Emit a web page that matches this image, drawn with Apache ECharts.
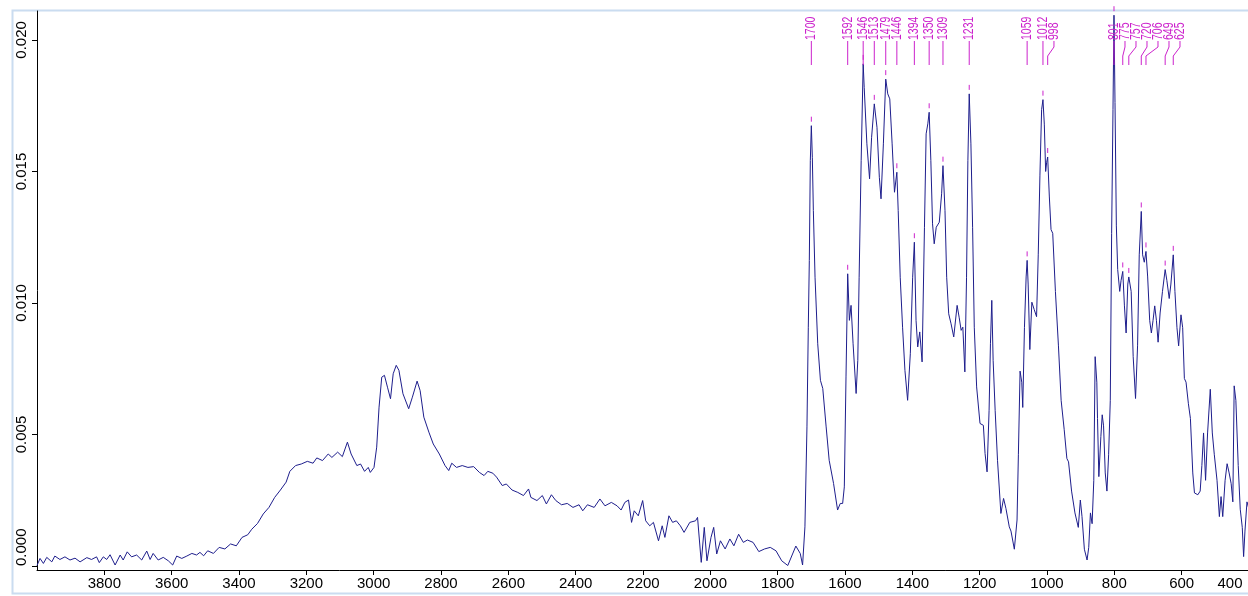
<!DOCTYPE html>
<html>
<head>
<meta charset="utf-8">
<script src="https://cdn.jsdelivr.net/npm/echarts@6/dist/echarts.min.js"></script>
<style>
html,body{margin:0;padding:0;background:#fff;}
#chart{width:1248px;height:596px;}
</style>
</head>
<body>
<div id="chart"></div>
<script>
// ---- data ----
const spectrum = [
[4000,0.00002],[3991,0.00029],[3981,0.0001],[3971,0.00033],[3956,0.00016],[3947,0.00038],[3932,0.00025],[3917,0.00035],[3902,0.00023],[3887,0.0003],[3872,0.00016],[3852,0.00032],[3838,0.00025],[3823,0.00035],[3815,0.00013],[3803,0.00035],[3793,0.00025],[3783,0.00043],[3768,0.00004],[3753,0.00042],[3744,0.00023],[3732,0.00054],[3719,0.00035],[3704,0.00042],[3689,0.00023],[3674,0.00057],[3664,0.00025],[3655,0.00048],[3640,0.00023],[3625,0.00033],[3610,0.0002],[3597,0.00004],[3585,0.00038],[3570,0.00029],[3555,0.00038],[3540,0.00048],[3526,0.00042],
[3516,0.00052],[3505,0.00039],[3493,0.00058],[3476,0.00048],[3459,0.00071],[3442,0.00065],[3425,0.00084],[3408,0.00077],[3391,0.00109],[3374,0.00119],[3362,0.0014],[3345,0.00162],[3328,0.00198],[3311,0.00223],[3294,0.00261],[3277,0.00289],[3260,0.00319],[3249,0.0036],[3232,0.00382],[3215,0.00388],[3197,0.00398],[3180,0.00391],[3169,0.00411],[3152,0.00401],[3135,0.00426],[3124,0.00413],[3107,0.00433],[3093,0.00416],[3078,0.00471],[3067,0.00426],[3050,0.00382],[3039,0.00388],[3027,0.0036],[3016,0.00375],[3010,0.00356],[2999,0.00375],[2991,0.00452],[2984,0.00604],[2976,0.00718],[2968,0.00725],[2959,0.0068],[2950,0.00636],[2942,0.00731],[2933,0.00763],[2925,0.00744],[2913,0.00655],[2896,0.00598],[2885,0.00642],[2871,0.00703],[2862,0.00667],[2851,0.00566],[2836,0.00509],[2823,0.00464],[2805,0.00426],[2788,0.00382],[2777,0.00363],[2768,0.00391],[2754,0.00375],[2737,0.00382],[2720,0.00375],[2703,0.00378],[2686,0.00356],[2672,0.00344],[2661,0.0036],[2646,0.00353],[2635,0.00338],[2618,0.00306],[2606,0.00312],[2589,0.00289],[2572,0.0028],[2555,0.00268],[2540,0.00293],[2533,0.00261],[2515,0.00249],[2499,0.00268],[2487,0.00236],[2472,0.00271],[2459,0.00249],[2442,0.00233],[2425,0.00238],[2408,0.00223],[2390,0.00233],[2379,0.0021],[2365,0.00233],[2345,0.00223],[2328,0.00255],[2313,0.00229],[2294,0.00242],[2277,0.00229],[2265,0.00213],[2254,0.00242],[2243,0.00251],[2234,0.00166],[2226,0.0021],[2214,0.00191],[2201,0.00249],[2192,0.00172],[2180,0.00153],[2169,0.00166],[2154,0.00096],[2143,0.00153],[2135,0.00109],[2123,0.00191],[2112,0.00166],[2101,0.00172],[2089,0.00153],[2078,0.00128],[2061,0.00166],[2044,0.00172],[2038,0.00185],[2027,0.00014],[2018,0.00147],[2010,0.0002],[1998,0.00109],[1990,0.00147],[1981,0.00046],[1970,0.00096],[1956,0.00065],[1942,0.00103],[1930,0.00077],[1916,0.00121],[1902,0.0009],[1890,0.00099],[1873,0.0009],[1856,0.00055],[1839,0.00065],[1822,0.00071],[1805,0.00058],[1788,0.0002],[1770,0.00002],[1746,0.00076],[1733,0.00048],[1726,0.00004],[1719,0.00149],[1713,0.00529],[1709,0.00908],[1706,0.01162],[1703,0.01541],[1700,0.01674],[1697,0.01554],[1694,0.01352],[1689,0.01098],[1681,0.00845],[1673,0.00706],[1666,0.00675],[1656,0.00529],[1647,0.00402],[1634,0.00314],[1622,0.00213],[1614,0.00238],[1607,0.00238],[1602,0.00301],[1597,0.00719],[1592,0.01111],[1587,0.00934],[1582,0.00991],[1576,0.00845],[1567,0.00656],[1562,0.00782],[1558,0.01098],[1552,0.01541],[1546,0.01909],[1543,0.0182],[1535,0.01605],[1527,0.01472],[1521,0.0163],[1513,0.01757],[1505,0.01668],[1498,0.01478],[1493,0.01396],[1486,0.01605],[1479,0.01851],[1473,0.01795],[1467,0.01776],[1460,0.01605],[1453,0.01421],[1446,0.01497],[1442,0.01352],[1436,0.01098],[1429,0.00908],[1422,0.00744],[1414,0.0063],[1406,0.00807],[1399,0.01098],[1394,0.01231],[1389,0.00934],[1384,0.00833],[1378,0.0089],[1371,0.00776],[1364,0.01288],[1359,0.01643],[1354,0.01681],[1350,0.01725],[1345,0.01541],[1340,0.01301],[1335,0.01225],[1329,0.01288],[1320,0.01307],[1313,0.01415],[1309,0.01522],[1303,0.01352],[1298,0.01098],[1292,0.00959],[1285,0.00921],[1277,0.00871],[1267,0.00991],[1261,0.00946],[1255,0.00896],[1250,0.00908],[1244,0.00738],[1239,0.01098],[1235,0.01541],[1231,0.01795],[1226,0.01605],[1221,0.01288],[1216,0.00908],[1209,0.00681],[1199,0.00542],[1189,0.00535],[1184,0.00428],[1178,0.00358],[1172,0.00592],[1168,0.00845],[1164,0.0101],[1160,0.00782],[1154,0.00592],[1147,0.00402],[1137,0.002],[1129,0.00257],[1122,0.00219],[1112,0.00149],[1107,0.00133],[1097,0.00064],[1089,0.00175],[1085,0.00423],[1080,0.00741],[1075,0.00699],[1072,0.00603],[1067,0.00906],[1062,0.01099],[1059,0.01162],[1056,0.01072],[1051,0.00823],[1045,0.01003],[1038,0.00975],[1031,0.00948],[1026,0.01183],[1021,0.01486],[1016,0.01735],[1012,0.01773],[1008,0.0168],[1004,0.015],[1001,0.01535],[998,0.01555],[993,0.01403],[988,0.01279],[983,0.01265],[975,0.01044],[966,0.00837],[958,0.0063],[949,0.0052],[941,0.00409],[936,0.00396],[927,0.00285],[917,0.00202],[907,0.00147],[901,0.00251],[896,0.00188],[889,0.00064],[881,0.00023],[876,0.00071],[871,0.00202],[866,0.00161],[861,0.00326],[857,0.00796],[852,0.00699],[850,0.00561],[846,0.0034],[840,0.00492],[836,0.00575],[832,0.00533],[827,0.00354],[822,0.00285],[817,0.00423],[812,0.0063],[808,0.01265],[804,0.01735],[801,0.02094],[798,0.01762],[794,0.01293],[790,0.01127],[784,0.01044],[780,0.01086],[775,0.0112],[770,0.00989],[765,0.00886],[760,0.01072],[757,0.01099],[750,0.01044],[744,0.00796],[737,0.00637],[731,0.00837],[726,0.01183],[720,0.01348],[716,0.01183],[711,0.01155],[706,0.01196],[701,0.01099],[695,0.00934],[690,0.00886],[685,0.00934],[680,0.00989],[675,0.00934],[670,0.00851],[664,0.00962],[657,0.01044],[649,0.01127],[644,0.01086],[637,0.01017],[632,0.01072],[625,0.01183],[620,0.01044],[614,0.00906],[609,0.00837],[602,0.00955],[597,0.00906],[592,0.00713],[587,0.00699],[580,0.00617],[574,0.00561],[567,0.00354],[562,0.00278],[557,0.00285],[552,0.00271],[545,0.00285],[540,0.00382],[535,0.00506],[529,0.00326],[523,0.00506],[515,0.00672],[509,0.00506],[503,0.00423],[495,0.00326],[488,0.00188],[483,0.00264],[478,0.00188],[471,0.00326],[465,0.00389],[459,0.00354],[453,0.00313],[448,0.00244],[444,0.00685],[439,0.0063],[432,0.00382],[426,0.00216],[420,0.00147],[416,0.00036],[412,0.00133],[406,0.00244],[400,0.00216]
];
const peakWavenumbers = [1700,1592,1546,1513,1479,1446,1394,1350,1309,1231,1059,1012,998,801,775,757,720,706,649,625];
const xTickValues = [3800,3600,3400,3200,3000,2800,2600,2400,2200,2000,1800,1600,1400,1200,1000,800,600,400];
const yTickValues = [0,0.005,0.010,0.015,0.020];

// ---- chart ----
const absAt = {};
spectrum.forEach(p => { absAt[p[0]] = p[1]; });
const MAG = '#cc22cc';
const chart = echarts.init(document.getElementById('chart'), null, {renderer:'canvas'});
const xEdgeValue = Math.min.apply(null, xTickValues);

function renderPeak(params, api) {
  const idx = params.dataIndex;
  const xs = peakWavenumbers.map(w => api.coord([w, 0])[0]);
  const order = xs.map((x, i) => i).sort((a, b) => xs[a] - xs[b]);
  const lx = new Array(xs.length);
  let prev = -Infinity;
  const gap = 11;
  for (const i of order) { lx[i] = Math.max(xs[i], prev + gap); prev = lx[i]; }
  const w = peakWavenumbers[idx];
  const pt = api.coord([w, absAt[w]]);
  const px = pt[0], py = pt[1];
  const L = lx[idx];
  const children = [
    {type:'text', x: L, y: 40, rotation: Math.PI/2, scaleX: 0.75,
     style:{text: String(w), fill: MAG, font: '14px "Liberation Sans", Arial, sans-serif', textAlign:'left', textVerticalAlign:'middle'}},
    {type:'polyline', shape:{points: [[L,41],[L,47],[px,56],[px,65]]},
     style:{stroke: MAG, lineWidth: 1, fill: null}},
    {type:'line', shape:{x1: px, y1: py-9, x2: px, y2: py-4},
     style:{stroke: MAG, lineWidth: 1}}
  ];
  return {type:'group', children};
}

chart.setOption({
  animation: false,
  backgroundColor: '#ffffff',
  grid: {left: 37, right: -1, top: 11, bottom: 26, containLabel: false, outerBoundsMode: 'none'},
  graphic: [{
    type:'rect', silent:true, z: -1,
    shape:{x: 12.5, y: 10.5, width: 1240, height: 583},
    style:{fill: null, stroke: '#cadcf0', lineWidth: 2}
  }],
  xAxis: {
    type: 'value', inverse: true, min: 400, max: 4000,
    axisLine: {show: true, onZero: false, lineStyle: {color: '#000', width: 1}},
    axisTick: {show: true, length: 5, lineStyle: {color: '#000'}, customValues: xTickValues},
    axisLabel: {customValues: xTickValues, color: '#000', fontSize: 15, margin: 6,
      fontFamily: '"Liberation Sans", Arial, sans-serif',
      formatter: v => v === xEdgeValue ? '{edge|' + v + '}' : String(v),
      rich: {edge: {fontSize: 15, color: '#000', fontFamily: '"Liberation Sans", Arial, sans-serif', padding: [0, 38, 0, 0]}}},
    splitLine: {show: false}
  },
  yAxis: {
    type: 'value', min: -0.00015, max: 0.02110,
    axisLine: {show: true, onZero: false, lineStyle: {color: '#000', width: 1}},
    axisTick: {show: true, length: 5, lineStyle: {color: '#000'}, customValues: yTickValues},
    axisLabel: {customValues: yTickValues, color: '#000', fontSize: 15, margin: 15, rotate: 90,
      align: 'center', verticalAlign: 'middle', alignMinLabel: 'left',
      fontFamily: '"Liberation Sans", Arial, sans-serif',
      formatter: v => v.toFixed(3)},
    splitLine: {show: false}
  },
  series: [
    {type: 'line', data: spectrum, showSymbol: false, symbol: 'none',
     lineStyle: {color: '#1e1e8c', width: 1}, silent: true, z: 2},
    {type: 'custom', coordinateSystem: 'cartesian2d', clip: false, silent: true, z: 3,
     data: peakWavenumbers.map(w => [w, absAt[w]]), renderItem: renderPeak}
  ]
});
</script>
</body>
</html>
